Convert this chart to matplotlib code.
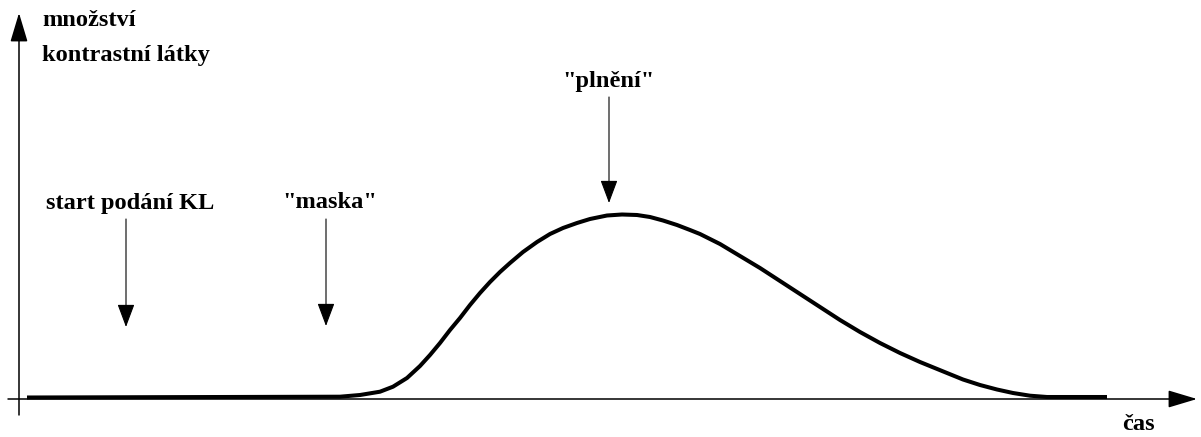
import matplotlib
matplotlib.use("Agg")
import matplotlib.pyplot as plt

# prubeh mnozstvi kontrastni latky v case (cas, mnozstvi)
cas = [27, 340, 360, 380, 393, 407, 420, 430, 440, 450, 460, 470, 480, 490,
       500, 510, 523, 537, 550, 563, 577, 590, 607, 622, 637, 650, 663, 677,
       690, 700, 720, 740, 760, 780, 800, 820, 840, 860, 880, 900, 920, 947,
       963, 980, 997, 1013, 1030, 1047, 1107]
mnozstvi = [1.5, 2.3, 4, 7.3, 12.3, 21, 33, 44, 56, 69, 81, 94, 106, 117,
            127, 136, 147, 157, 165, 171, 176, 180, 183.5, 184.5, 184, 182, 178.5, 174,
            169, 165, 155, 143, 131, 118, 105, 92, 79, 67, 56, 46, 37, 26,
            19.5, 14, 9.5, 6, 3.3, 2, 2]

# popisky okamziku a jejich sipky
udalosti = ["start podání KL", "\"maska\"", "\"plnění\""]
udalosti_cas = [126, 326, 609]
sipka_od = [180, 180, 302]
sipka_do = [72, 73, 196]
popisek_x = [130, 330, 608]
popisek_y = [196, 197, 317]

font = {"family": "Liberation Serif", "weight": "bold", "size": 17.6}

fig = plt.figure(figsize=(12.01, 4.37), dpi=100)
ax = fig.add_axes([0, 0, 1, 1])
ax.set_xlim(0, 1201)
ax.set_ylim(-38, 399)
ax.axis("off")

# osy se sipkami
osa = dict(arrowstyle="-|>,head_length=1.0,head_width=0.3", color="black",
           lw=1.1, mutation_scale=18, shrinkA=0, shrinkB=0)
ax.annotate("", xy=(19, 386), xytext=(19, -16), arrowprops=osa)
ax.annotate("", xy=(1197, 0), xytext=(8, 0), arrowprops=osa)

ax.plot(cas, mnozstvi, color="black", lw=2.9, solid_capstyle="butt",
        solid_joinstyle="round")

sipka = dict(arrowstyle="-|>,head_length=0.8,head_width=0.3", color="black",
             lw=0.8, mutation_scale=18, shrinkA=0, shrinkB=0)
for t, od, do, txt, lx, ly in zip(udalosti_cas, sipka_od, sipka_do, udalosti,
                                  popisek_x, popisek_y):
    ax.annotate("", xy=(t, do), xytext=(t, od), arrowprops=sipka)
    ax.text(lx, ly, txt, ha="center", va="center", **font)

ax.text(42, 379, "množství", ha="left", va="center", **font)
ax.text(42, 344, "kontrastní látky", ha="left", va="center", **font)
ax.text(1138, -26, "čas", ha="center", va="center", **font)

fig.savefig("out.png", dpi=100, facecolor="white")
